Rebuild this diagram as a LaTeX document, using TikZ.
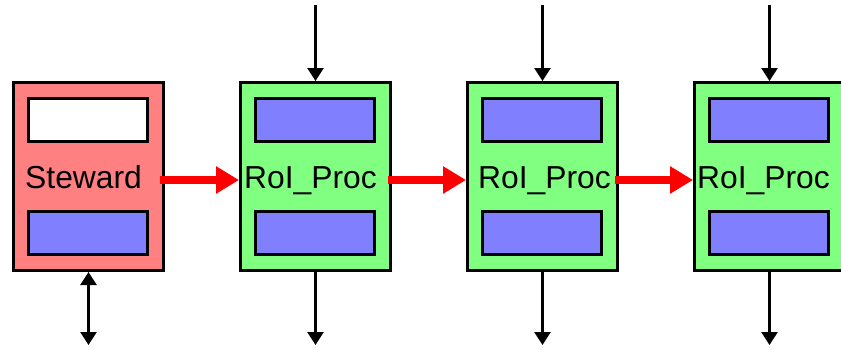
\documentclass[tikz,border=0pt]{standalone}
\usepackage{fontspec}
\setmainfont{Liberation Sans}
\usetikzlibrary{arrows.meta,calc}
\definecolor{boxred}{HTML}{FF8080}
\definecolor{boxgreen}{HTML}{80FF80}
\definecolor{boxblue}{HTML}{8080FF}
\definecolor{arrowred}{HTML}{FF0000}
\begin{document}
\begin{tikzpicture}[x=1pt,y=-1pt,
  outerbox/.style={draw, line width=3pt, minimum width=150pt, minimum height=188pt, inner sep=0pt},
  innerbox/.style={draw, line width=3pt, fill=boxblue, minimum width=119pt, minimum height=43pt, inner sep=0pt},
  label/.style={anchor=base west, inner sep=0pt, font=\fontsize{31.8}{32}\selectfont},
  blackarrow/.style={line width=2.5pt, -{Triangle[width=16pt,length=13pt]}},
  botharrow/.style={line width=2.5pt, {Triangle[width=16pt,length=13pt]}-{Triangle[width=16pt,length=13pt]}},
  redarrow/.style={draw=arrowred, line width=8pt, -{Triangle[width=26pt,length=23pt]}}
]
\useasboundingbox (0,0) rectangle (841,349);
\clip (0,0) rectangle (841,349);
% Steward
\node[outerbox, fill=boxred] (s) at (88.5,176.5) {};
\node[innerbox, fill=white] (s1) at (88,119.5) {};
\node[innerbox] (s2) at (88,233) {};
\node[label] (st) at (25,188) {Steward};
% RoI_Proc boxes
\foreach \i/\x/\t in {1/315.5/244,2/542.5/478,3/769.5/697}{
  \node[outerbox, fill=boxgreen] (g\i) at (\x,176.5) {};
  \node[innerbox] (g\i a) at (\x-0.5,119.5) {};
  \node[innerbox] (g\i b) at (\x-0.5,233) {};
  \node[label] (gt\i) at (\t,188) {RoI\_Proc};
  \coordinate (top\i) at (\x,5);
  \coordinate (bot\i) at (\x,345);
  \draw[blackarrow] (top\i) -- (g\i.north);
  \draw[blackarrow] (g\i.south) -- (bot\i);
}
\coordinate (sbot) at (88.5,345);
\draw[botharrow] (s.south) -- (sbot);
% red arrows
\draw[redarrow] ($(s.east)+(-5,3.5)$) -- ($(g1.west)+(0,3.5)$);
\draw[redarrow] ($(g1.east)+(-4,3.5)$) -- ($(g2.west)+(0,3.5)$);
\draw[redarrow] ($(g2.east)+(-4,3.5)$) -- ($(g3.west)+(0,3.5)$);
\end{tikzpicture}
\end{document}
